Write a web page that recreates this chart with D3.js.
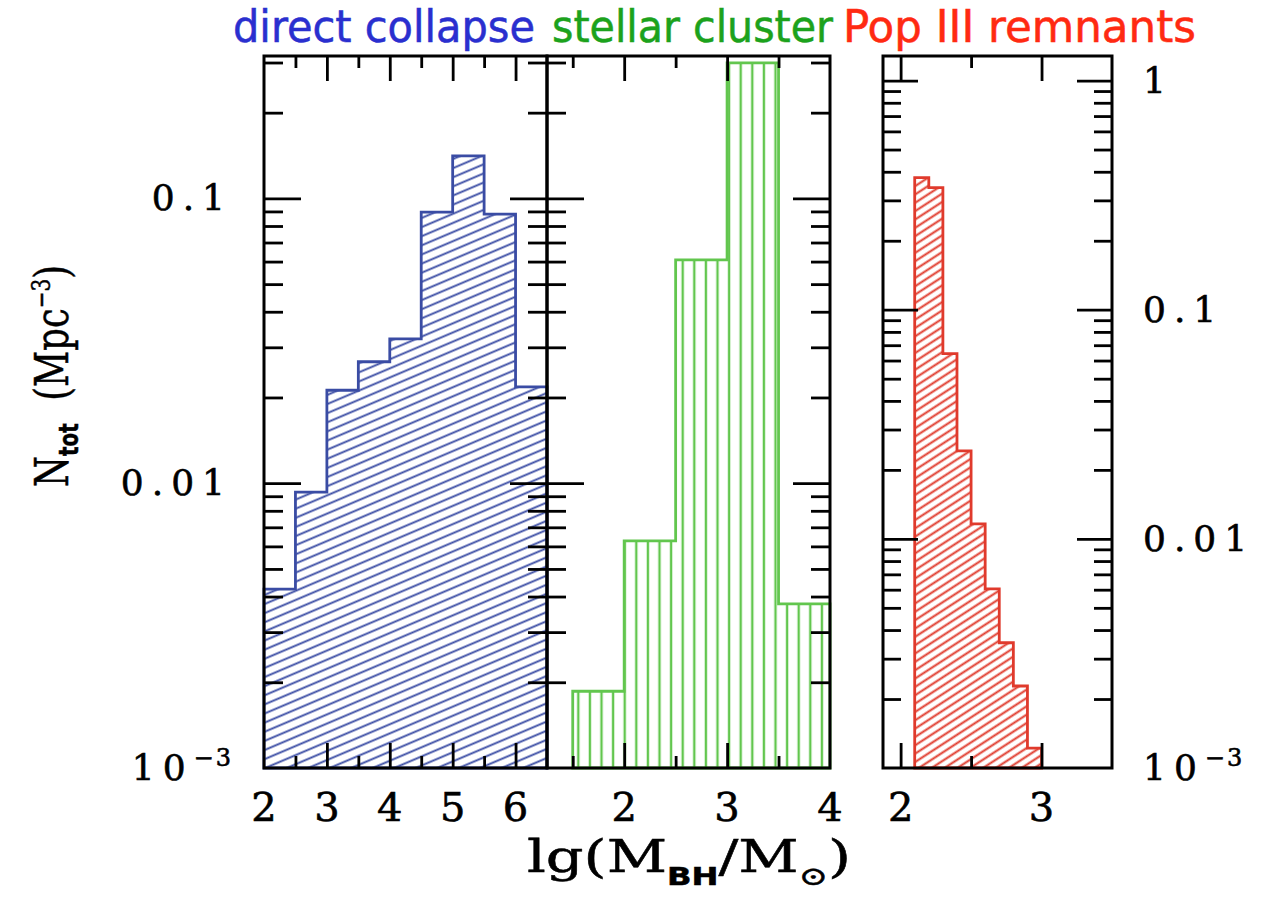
<!DOCTYPE html>
<html>
<head>
<meta charset="utf-8">
<script src="https://cdn.jsdelivr.net/npm/d3@7"></script>
<style>
  html, body { margin: 0; padding: 0; background: #fff; }
  svg { display: block; }
</style>
</head>
<body>
<svg id="chart" width="1264" height="907"></svg>
<script>
// ---------------- data ----------------
const panelTitles = ["direct collapse", "stellar cluster", "Pop III remnants"];

// direct collapse: lg(M_BH) bin edges and N_tot (Mpc^-3)
const dcEdges  = [2, 2.5, 3, 3.5, 4, 4.5, 5, 5.5, 6, 6.5];
const dcValues = [0.00425, 0.0093, 0.0212, 0.0267, 0.0321, 0.0895, 0.141, 0.088, 0.0218];

// stellar cluster
const scEdges  = [1.5, 2, 2.5, 3, 3.5, 4];
const scValues = [0.00186, 0.00627, 0.0608, 0.299, 0.00377];

// Pop III remnants
const p3Edges  = [2.1, 2.2, 2.3, 2.4, 2.5, 2.6, 2.7, 2.8, 2.9, 3.0];
const p3Values = [0.377, 0.341, 0.0643, 0.0242, 0.01163, 0.00605, 0.00352, 0.00228, 0.00122];

// tick labels
const dcXLabels = [2, 3, 4, 5, 6];
const scXLabels = [2, 3, 4];
const p3XLabels = [2, 3];
const leftYLabels  = [0.1, 0.01, 0.001];
const rightYLabels = [1, 0.1, 0.01, 0.001];

// ---------------- layout ----------------
const svg = d3.select("#chart");
const TOP = 56, BOT = 768;
const yLeft  = d3.scaleLog().domain([1e-3, Math.pow(10, -0.5)]).range([BOT, TOP]);
const yRight = d3.scaleLog().domain([1e-3, 1.28]).range([BOT, TOP]);

const panels = [
  { x: d3.scaleLinear().domain([2, 6.5]).range([264, 547]), y: yLeft,
    edges: dcEdges, values: dcValues, color: "#3a4ca4", pat: "hatchBlue",
    xMaj: [3, 4, 5, 6], xMin: [2.5, 3.5, 4.5, 5.5], xLab: dcXLabels,
    yMajLen: 37, yMinLen: 19 },
  { x: d3.scaleLinear().domain([1.25, 4]).range([547, 830]), y: yLeft,
    edges: scEdges, values: scValues, color: "#62c64e", pat: "hatchGreen",
    xMaj: [2, 3], xMin: [1.5, 2.5, 3.5], xLab: scXLabels,
    yMajLen: 37, yMinLen: 19 },
  { x: d3.scaleLinear().domain([1.875, 3.5]).range([883, 1112]), y: yRight,
    edges: p3Edges, values: p3Values, color: "#e03a2c", pat: "hatchRed",
    xMaj: [2, 3], xMin: [2.5], xLab: p3XLabels,
    yMajLen: 35, yMinLen: 18 }
];

function logTicks(scale) {
  const [lo, hi] = scale.domain();
  const maj = [], min = [];
  for (let d = lo; d <= hi * 1.0001; d *= 10) {
    maj.push(d);
    for (let m = 2; m <= 9; m++) if (d * m <= hi * 0.97) min.push(d * m);
  }
  return { maj: maj.filter(v => v > lo * 1.01), min };
}

// ---------------- patterns ----------------
const defs = svg.append("defs");
function linePattern(id, color, spacing, angle, width) {
  const p = defs.append("pattern").attr("id", id)
    .attr("patternUnits", "userSpaceOnUse")
    .attr("width", 40).attr("height", spacing)
    .attr("patternTransform", `rotate(${angle})`);
  p.append("line").attr("x1", -5).attr("x2", 45)
    .attr("y1", spacing / 2).attr("y2", spacing / 2)
    .attr("stroke", color).attr("stroke-width", width);
}
linePattern("hatchBlue", "#3a4ca4", 8.4, -23, 2.0);
linePattern("hatchRed", "#e03a2c", 7.0, -33, 1.9);
(function () {
  const p = defs.append("pattern").attr("id", "hatchGreen")
    .attr("patternUnits", "userSpaceOnUse")
    .attr("width", 11.6).attr("height", 40).attr("x", 572 + 0.5);
  p.append("line").attr("x1", 5.8).attr("x2", 5.8).attr("y1", -5).attr("y2", 45)
    .attr("stroke", "#62c64e").attr("stroke-width", 2.4);
})();

// ---------------- histograms ----------------
const line = d3.line();
panels.forEach(P => {
  const pts = [[P.x(P.edges[0]), P.y.range()[0]]];
  P.values.forEach((v, i) => {
    pts.push([P.x(P.edges[i]), P.y(v)]);
    pts.push([P.x(P.edges[i + 1]), P.y(v)]);
  });
  pts.push([P.x(P.edges[P.edges.length - 1]), P.y.range()[0]]);
  svg.append("path").attr("d", line(pts) + "Z")
    .attr("fill", `url(#${P.pat})`)
    .attr("stroke", P.color).attr("stroke-width", 2.8)
    .attr("stroke-linejoin", "miter");
});

// ---------------- ticks ----------------
function drawAxis(axis, tx, ty) {
  const g = svg.append("g").attr("transform", `translate(${tx},${ty})`).call(axis);
  g.select(".domain").remove();
  g.selectAll("text").remove();
  g.selectAll("line").attr("stroke", "#000").attr("stroke-width", 2.8);
}
panels.forEach(P => {
  const [x0, x1] = P.x.range();
  const yt = logTicks(P.y);
  drawAxis(d3.axisLeft(P.y).tickValues(yt.maj).tickSize(-P.yMajLen), x0, 0);
  drawAxis(d3.axisLeft(P.y).tickValues(yt.min).tickSize(-P.yMinLen), x0, 0);
  drawAxis(d3.axisRight(P.y).tickValues(yt.maj).tickSize(-P.yMajLen), x1, 0);
  drawAxis(d3.axisRight(P.y).tickValues(yt.min).tickSize(-P.yMinLen), x1, 0);
  drawAxis(d3.axisBottom(P.x).tickValues(P.xMaj).tickSize(-25), 0, BOT);
  drawAxis(d3.axisBottom(P.x).tickValues(P.xMin).tickSize(-12), 0, BOT);
  drawAxis(d3.axisTop(P.x).tickValues(P.xMaj).tickSize(-25), 0, TOP);
  drawAxis(d3.axisTop(P.x).tickValues(P.xMin).tickSize(-12), 0, TOP);
  svg.append("rect").attr("x", x0).attr("y", TOP)
    .attr("width", x1 - x0).attr("height", BOT - TOP)
    .attr("fill", "none").attr("stroke", "#000").attr("stroke-width", 3);
});

// ---------------- tick labels ----------------
const serif = "'DejaVu Serif', 'Liberation Serif', serif";
panels.forEach(P => {
  svg.append("g").selectAll("text").data(P.xLab).join("text")
    .attr("x", d => P.x(d)).attr("y", 821)
    .attr("text-anchor", "middle")
    .attr("font-family", serif).attr("font-size", 40)
    .attr("stroke", "#000").attr("stroke-width", 0.6)
    .attr("fill", "#000").text(d => d);
});

function yLabel(g, v, x, y, anchor) {
  const t = g.append("text").attr("x", x).attr("y", y + 12)
    .attr("text-anchor", anchor)
    .attr("font-family", serif).attr("font-size", 36)
    .attr("stroke", "#000").attr("stroke-width", 0.6)
    .attr("letter-spacing", 8).attr("fill", "#000");
  if (v === 0.001) {
    t.append("tspan").text("10");
    t.append("tspan").attr("dy", -14).attr("font-size", 24).attr("letter-spacing", 2).text("\u22123");
  } else {
    t.text(d3.format("~g")(v));
  }
}
const gl = svg.append("g");
leftYLabels.forEach(v => yLabel(gl, v, 233, yLeft(v), "end"));
const gr = svg.append("g");
rightYLabels.forEach(v => yLabel(gr, v, 1143, yRight(v), "start"));

// ---------------- panel titles ----------------
const titleColors = ["#2a2fcf", "#1ca21c", "#ff2a12"];
const titleX = [233, 552, 843];
const titleW = [302, 281, 353];
panelTitles.forEach((t, i) => {
  svg.append("text").attr("x", titleX[i]).attr("y", 42)
    .attr("font-family", "'DejaVu Sans Condensed', 'DejaVu Sans', sans-serif")
    .attr("font-stretch", "condensed")
    .attr("font-size", 45)
    .attr("textLength", titleW[i]).attr("lengthAdjust", "spacingAndGlyphs")
    .attr("stroke", titleColors[i]).attr("stroke-width", 0.5)
    .attr("fill", titleColors[i]).text(t);
});

// ---------------- axis titles ----------------
const yt = svg.append("text")
  .attr("transform", "translate(68,487) rotate(-90)")
  .attr("font-family", serif).attr("font-size", 46)
  .attr("textLength", 222).attr("lengthAdjust", "spacingAndGlyphs")
  .attr("stroke", "#000").attr("stroke-width", 0.5)
  .attr("fill", "#000");
yt.append("tspan").text("N");
yt.append("tspan").attr("dy", 10).attr("font-size", 26).attr("font-weight", "bold")
  .attr("font-family", "'DejaVu Sans', sans-serif").text("tot");
yt.append("tspan").attr("dy", -10).text("\u00a0\u00a0(Mpc");
yt.append("tspan").attr("dy", -18).attr("font-size", 26).text("\u22123");
yt.append("tspan").attr("dy", 18).text(")");

const xt = svg.append("text")
  .attr("x", 527).attr("y", 872)
  .attr("font-family", serif).attr("font-size", 44)
  .attr("textLength", 324).attr("lengthAdjust", "spacingAndGlyphs")
  .attr("stroke", "#000").attr("stroke-width", 0.5)
  .attr("fill", "#000");
xt.append("tspan").text("lg(M");
xt.append("tspan").attr("dy", 13).attr("font-size", 24).attr("font-weight", "bold")
  .attr("font-family", "'DejaVu Sans', sans-serif").text("BH");
xt.append("tspan").attr("dy", -13).text("/M");
xt.append("tspan").attr("dy", 13).attr("font-size", 26).text("\u2299");
xt.append("tspan").attr("dy", -13).text(")");
</script>
</body>
</html>
